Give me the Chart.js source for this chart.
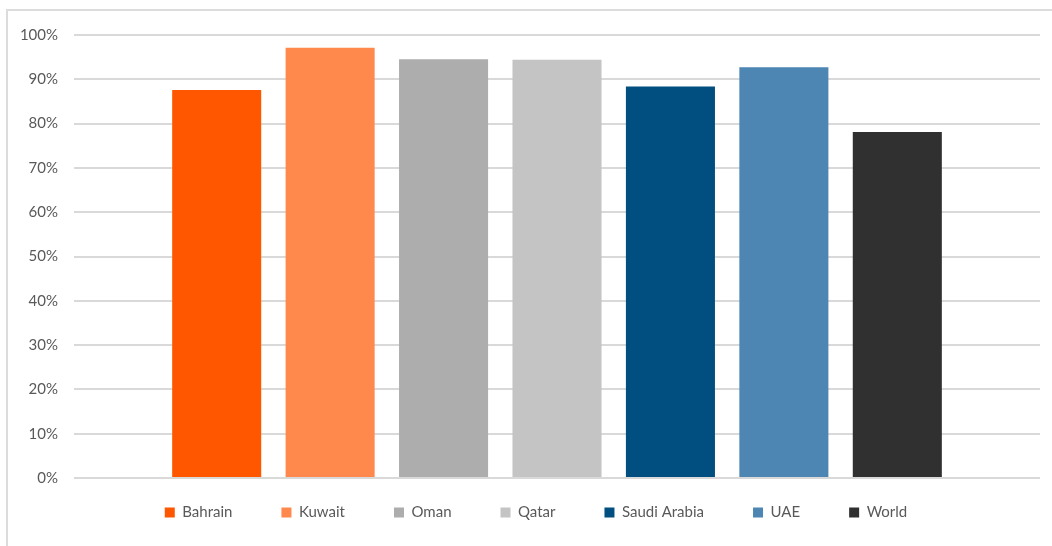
<!DOCTYPE html>
<html>
<head>
<meta charset="utf-8">
<script src="https://cdn.jsdelivr.net/npm/chart.js@4/dist/chart.umd.min.js"></script>
<style>
  html, body { margin: 0; padding: 0; background: #fff; }
  #wrap { position: relative; width: 1052px; height: 546px; overflow: hidden; }
  #frame { position: absolute; left: 6px; top: 9px; width: 1100px; height: 600px; border: 2px solid #dcdcdc; box-sizing: border-box; }
  canvas { position: absolute; left: 0; top: 0; }
</style>
</head>
<body>
<div id="wrap">
  <div id="frame"></div>
  <canvas id="c" width="1052" height="546"></canvas>
</div>
<script>
const categories = ['Bahrain', 'Kuwait', 'Oman', 'Qatar', 'Saudi Arabia', 'UAE', 'World'];
const values = [87.6, 97.1, 94.5, 94.4, 88.4, 92.7, 78.1];
const colors = ['#ff5700', '#ff884d', '#adadad', '#c4c4c4', '#004f80', '#4d85b3', '#303030'];
const yTicks = [0, 10, 20, 30, 40, 50, 60, 70, 80, 90, 100];

Chart.defaults.font.family = 'Lato, "Open Sans", sans-serif';
Chart.defaults.color = '#595959';

const legendShift = {
  id: 'legendShift',
  afterLayout(chart) {
    if (chart.legend) { chart.legend.left += 16; chart.legend.right += 16; }
  }
};

new Chart(document.getElementById('c'), {
  type: 'bar',
  data: {
    labels: [''],
    datasets: categories.map((c, i) => ({
      label: c,
      data: [values[i]],
      backgroundColor: colors[i],
      borderWidth: 0
    }))
  },
  plugins: [legendShift],
  options: {
    responsive: false,
    animation: false,
    devicePixelRatio: 1,
    categoryPercentage: 0.822,
    barPercentage: 0.785,
    layout: { padding: { left: 0, right: 12, top: 35, bottom: -6 } },
    scales: {
      x: {
        grid: { display: false, drawTicks: false },
        border: { display: false },
        ticks: { display: false },
        afterFit: (s) => { s.height = -22; }
      },
      y: {
        min: 0, max: 100,
        afterBuildTicks: (s) => { s.ticks = yTicks.map(v => ({ value: v })); },
        afterFit: (s) => { s.width = 74; },
        grid: { color: '#d9d9d9', lineWidth: 2, drawTicks: false },
        border: { display: false },
        ticks: {
          padding: 16,
          font: { size: 15 },
          color: '#595959',
          callback: (v) => v + '%'
        }
      }
    },
    plugins: {
      legend: {
        position: 'bottom',
        labels: {
          boxWidth: 10,
          boxHeight: 10,
          padding: 49,
          font: { size: 15 },
          color: '#595959'
        }
      },
      tooltip: { enabled: false }
    }
  }
});
</script>
</body>
</html>
